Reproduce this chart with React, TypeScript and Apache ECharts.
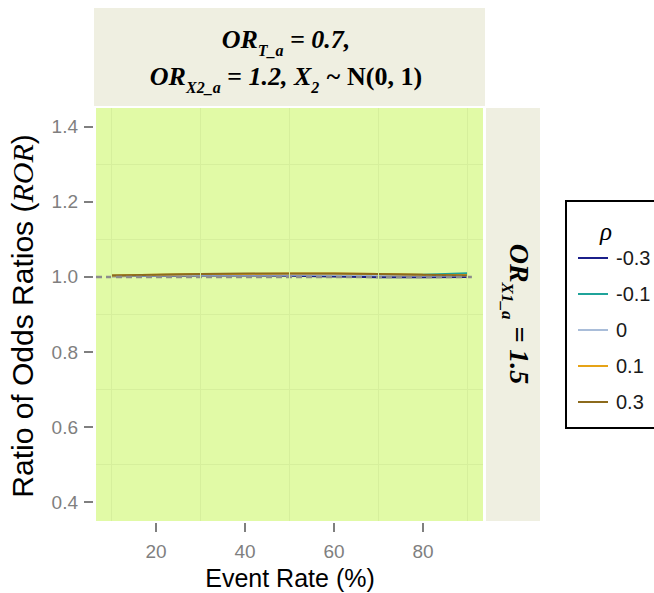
import React, { useEffect, useRef } from "react";
import * as echarts from "echarts";

const eventRates = [10, 20, 30, 40, 50, 60, 70, 80, 90];
const rhoNames = ["-0.3", "-0.1", "0", "0.1", "0.3"];
const rhoColors = ["#1B1F8A", "#1FA39A", "#A9BDD9", "#E6A317", "#8C6A1C"];
const rorM03 = [1.002, 1.003, 1.004, 1.004, 1.003, 1.001, 0.999, 0.999, 1.0];
const rorM01 = [1.003, 1.005, 1.007, 1.008, 1.008, 1.007, 1.006, 1.006, 1.01];
const ror0 = [1.003, 1.004, 1.006, 1.006, 1.006, 1.006, 1.005, 1.004, 1.004];
const ror01 = [1.004, 1.006, 1.008, 1.008, 1.009, 1.009, 1.008, 1.006, 1.005];
const ror03 = [1.004, 1.006, 1.008, 1.009, 1.009, 1.009, 1.008, 1.006, 1.004];
const rorSeries = [rorM03, rorM01, ror0, ror01, ror03];
const xTicks = [20, 40, 60, 80];
const yTicks = [0.4, 0.6, 0.8, 1.0, 1.2, 1.4];
const xMinor = [10, 30, 50, 70, 90];
const yMinor = [0.5, 0.7, 0.9, 1.1, 1.3];
const refValue = 1.0;

const SANS = "'Liberation Sans', Arial, sans-serif";
const SERIF = "'Liberation Serif', 'Times New Roman', serif";

export default function App() {
  const ref = useRef<HTMLDivElement>(null);
  useEffect(() => {
    document.body.style.margin = "0";
    const chart = echarts.init(ref.current!, null, { renderer: "svg" });
    const mkMain = (size: number) => ({
      fontFamily: SERIF,
      fontStyle: "italic",
      fontWeight: "bold",
      fontSize: size,
      color: "#000",
      verticalAlign: "top",
    });
    const mkSub = (size: number, pad: number) => ({
      fontFamily: SERIF,
      fontStyle: "italic",
      fontWeight: "bold",
      fontSize: size,
      color: "#000",
      verticalAlign: "top",
      padding: [pad, 0, 0, 0],
    });
    const option: any = {
      animation: false,
      backgroundColor: "#fff",
      grid: {
        left: 96,
        top: 108,
        width: 387,
        height: 413,
        show: true,
        backgroundColor: "#E1FAA6",
        borderWidth: 0,
      },
      xAxis: {
        type: "value",
        min: 6.5,
        max: 93.5,
        offset: 2,
        axisLine: { show: false },
        axisTick: {
          show: true,
          length: 9,
          customValues: xTicks,
          lineStyle: { color: "#7F7F7F", width: 2 },
        },
        axisLabel: {
          customValues: xTicks,
          color: "#7F7F7F",
          fontSize: 19,
          fontFamily: SANS,
          margin: 19,
        },
        splitLine: { show: false },
      },
      yAxis: {
        type: "value",
        min: 0.35,
        max: 1.45,
        offset: 3,
        axisLine: { show: false },
        axisTick: {
          show: true,
          length: 9,
          customValues: yTicks,
          lineStyle: { color: "#7F7F7F", width: 2 },
        },
        axisLabel: {
          customValues: yTicks,
          color: "#7F7F7F",
          fontSize: 19,
          fontFamily: SANS,
          margin: 15,
          formatter: (v: number) => v.toFixed(1),
        },
        splitLine: { show: false },
      },
      legend: {
        data: rhoNames,
        orient: "vertical",
        left: 578,
        top: 240,
        padding: 0,
        itemGap: 0,
        icon: "rect",
        itemWidth: 30,
        itemHeight: 2,
        selectedMode: false,
        z: 10,
        textStyle: {
          fontSize: 20,
          lineHeight: 36,
          color: "#1a1a1a",
          fontFamily: SANS,
          padding: [0, 0, 0, 3],
        },
      },
      series: [
        {
          name: "grid",
          type: "line",
          z: 1,
          data: eventRates.map((x) => [x, refValue]),
          symbol: "none",
          lineStyle: { opacity: 0 },
          silent: true,
          markLine: {
            silent: true,
            symbol: ["none", "none"],
            label: { show: false },
            lineStyle: { color: "#D6EF9C", width: 1, type: "solid" },
            data: [
              ...xMinor.map((v) => ({ xAxis: v })),
              ...yMinor.map((v) => ({ yAxis: v })),
            ],
          },
        },
        ...rhoNames.map((name, i) => ({
          name,
          type: "line",
          z: 3,
          symbol: "none",
          color: rhoColors[i],
          lineStyle: { color: rhoColors[i], width: 2 },
          data: eventRates.map((x, j) => [x, rorSeries[i][j]]),
        })),
        {
          name: "ref",
          type: "line",
          z: 4,
          symbol: "none",
          silent: true,
          data: [
            [6.5, refValue],
            [91, refValue],
          ],
          lineStyle: { color: "#8C8C8C", width: 2.5, type: [6, 4] },
        },
      ],
      graphic: [
        {
          type: "rect",
          z: 0,
          shape: { x: 94, y: 8, width: 391, height: 98 },
          style: { fill: "#EFEFE1" },
        },
        {
          type: "rect",
          z: 0,
          shape: { x: 486, y: 108, width: 54, height: 413 },
          style: { fill: "#EFEFE1" },
        },
        {
          type: "text",
          z: 5,
          x: 286,
          y: 63,
          style: {
            text: "{b|OR}{s|T_a}{b| = 0.7,}\n{b|OR}{s|X2_a}{b| = 1.2, X}{s|2}{b| ~ }{n|N(0, 1)}",
            align: "center",
            verticalAlign: "middle",
            rich: {
              b: { ...mkMain(26), lineHeight: 37 },
              s: mkSub(16, 16),
              n: { ...mkMain(26), fontStyle: "normal", lineHeight: 37 },
            },
          },
        },
        {
          type: "text",
          z: 5,
          x: 516,
          y: 314,
          rotation: -Math.PI / 2,
          style: {
            text: "{b|OR}{s|X1_a}{b| = 1.5}",
            align: "center",
            verticalAlign: "middle",
            rich: {
              b: { ...mkMain(28), lineHeight: 34 },
              s: mkSub(17, 17),
            },
          },
        },
        {
          type: "text",
          z: 5,
          x: 22,
          y: 316,
          rotation: Math.PI / 2,
          style: {
            text: "{a|Ratio of Odds Ratios (}{i|ROR}{a|)}",
            align: "center",
            verticalAlign: "middle",
            rich: {
              a: { fontFamily: SANS, fontSize: 30, color: "#000" },
              i: { fontFamily: SERIF, fontStyle: "italic", fontSize: 30, color: "#000" },
            },
          },
        },
        {
          type: "text",
          z: 5,
          x: 290,
          y: 578,
          style: {
            text: "Event Rate (%)",
            align: "center",
            verticalAlign: "middle",
            fontFamily: SANS,
            fontSize: 25,
            fill: "#000",
          },
        },
        {
          type: "rect",
          z: 1,
          shape: { x: 566, y: 201, width: 100, height: 227 },
          style: { fill: "#fff", stroke: "#000", lineWidth: 2 },
        },
        {
          type: "text",
          z: 5,
          x: 606,
          y: 231,
          style: {
            text: "ρ",
            align: "center",
            verticalAlign: "middle",
            fontFamily: SERIF,
            fontStyle: "italic",
            fontSize: 25,
            fill: "#000",
          },
        },
      ],
    };
    chart.setOption(option);
    return () => chart.dispose();
  }, []);
  return (
    <div
      ref={ref}
      style={{ width: 654, height: 593, position: "absolute", left: 0, top: 0 }}
    />
  );
}
